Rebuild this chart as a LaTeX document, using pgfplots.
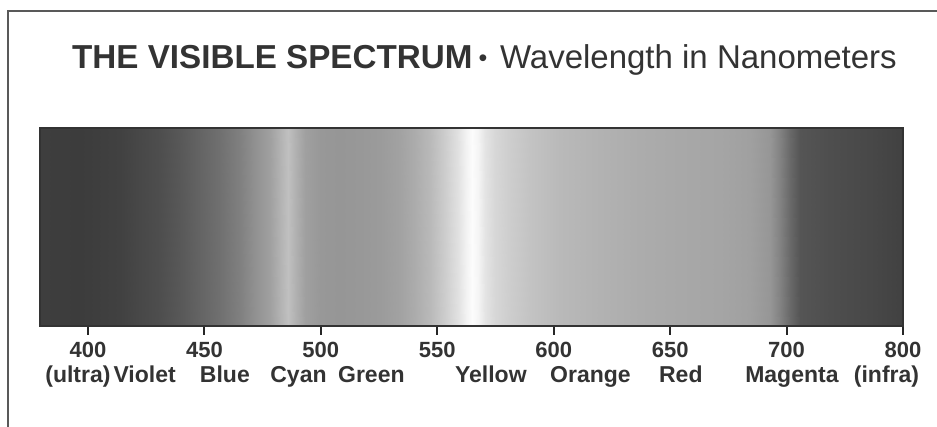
\documentclass[border=0pt]{standalone}
\usepackage{pgfplots}
\pgfplotsset{compat=1.18}
\usepackage{pgfplotstable}
\usepackage{fontspec}
\setmainfont{Liberation Sans}
\definecolor{ink}{gray}{0.2}
\definecolor{framec}{gray}{0.35}
\pgfplotstableread{
u y g
379.4 0 62
396.56 0 60
413.74 0 65
422.33 0 72
430.92 0 78
439.51 0 88
448.10 0 100
456.69 0 112
465.28 0 128
471.72 0 145
478.16 0 160
482.45 0 178
485.89 0 192
488.90 0 178
493.19 0 160
499.63 0 152
508.22 0 150
516.81 0 152
525.40 0 155
533.99 0 162
540.43 0 172
546.87 0 185
553.31 0 205
558.90 0 225
562.33 0 242
564.91 0 252
567.49 0 245
570.49 0 228
574.79 0 215
581.23 0 205
589.82 0 195
602.70 0 185
619.88 0 178
637.06 0 172
654.23 0 168
671.41 0 165
684.30 0 160
692.88 0 150
697.18 0 130
701.47 0 105
705.77 0 85
718.65 0 78
735.83 0 72
750.0 0 65
379.4 1 62
396.56 1 60
413.74 1 65
422.33 1 72
430.92 1 78
439.51 1 88
448.10 1 100
456.69 1 112
465.28 1 128
471.72 1 145
478.16 1 160
482.45 1 178
485.89 1 192
488.90 1 178
493.19 1 160
499.63 1 152
508.22 1 150
516.81 1 152
525.40 1 155
533.99 1 162
540.43 1 172
546.87 1 185
553.31 1 205
558.90 1 225
562.33 1 242
564.91 1 252
567.49 1 245
570.49 1 228
574.79 1 215
581.23 1 205
589.82 1 195
602.70 1 185
619.88 1 178
637.06 1 172
654.23 1 168
671.41 1 165
684.30 1 160
692.88 1 150
697.18 1 130
701.47 1 105
705.77 1 85
718.65 1 78
735.83 1 72
750.0 1 65
}\spectrum
\tikzset{
  numlab/.style={anchor=base, text=ink, inner sep=0pt, yshift=-32bp, font=\fontsize{22bp}{24bp}\selectfont\bfseries},
  namelab/.style={anchor=base, text=ink, inner sep=0pt, yshift=-56bp, font=\fontsize{23bp}{25bp}\selectfont\bfseries}
}
\begin{document}
\begin{tikzpicture}
\useasboundingbox (0,0) rectangle (937bp,427bp);
\draw[framec, line width=1.6bp] (8bp,-2bp) -- (8bp,416bp) -- (940bp,416bp);
\node[anchor=base west, text=ink, inner sep=0pt, font=\fontsize{33.2bp}{36bp}\selectfont\bfseries] at (72bp,358.5bp) {THE VISIBLE SPECTRUM};
\node[anchor=base, text=ink, inner sep=0pt, font=\fontsize{25bp}{30bp}\selectfont] at (483bp,360bp) {•};
\node[anchor=base east, text=ink, inner sep=0pt, font=\fontsize{33bp}{36bp}\selectfont] at (897bp,358.5bp) {Wavelength in Nanometers};
\begin{axis}[
  at={(40bp,101bp)}, anchor=south west,
  scale only axis, width=863bp, height=198bp,
  xmin=379.4, xmax=750, ymin=0, ymax=1,
  ytick=\empty,
  xtick={400,450,500,550,600,650,700,750},
  xticklabels={},
  xtick pos=bottom,
  tick align=outside,
  major tick length=9bp,
  tick style={line width=2bp, color=black!85},
  axis line style={line width=2.2bp, color=black!80},
  colormap={bw}{gray(0cm)=(0); gray(1cm)=(1)},
  point meta min=0, point meta max=255,
  clip=false,
  axis on top,
]
\addplot[surf, shader=interp, mesh/cols=44, point meta=explicit] table[x=u, y=y, meta=g] {\spectrum};
\node[numlab] at (axis cs:400,0) {400};
\node[numlab] at (axis cs:450,0) {450};
\node[numlab] at (axis cs:500,0) {500};
\node[numlab] at (axis cs:550,0) {550};
\node[numlab] at (axis cs:600,0) {600};
\node[numlab] at (axis cs:650,0) {650};
\node[numlab] at (axis cs:700,0) {700};
\node[numlab] at (axis cs:750,0) {800};
\node[namelab] at (axis cs:409.7,0) {(ultra)\hspace{3bp}Violet};
\node[namelab] at (axis cs:458.8,0) {Blue};
\node[namelab] at (axis cs:490.4,0) {Cyan};
\node[namelab] at (axis cs:521.7,0) {Green};
\node[namelab] at (axis cs:573.0,0) {Yellow};
\node[namelab] at (axis cs:615.8,0) {Orange};
\node[namelab] at (axis cs:654.6,0) {Red};
\node[namelab] at (axis cs:702.3,0) {Magenta};
\node[namelab] at (axis cs:742.9,0) {(infra)};
\end{axis}
\end{tikzpicture}
\end{document}
